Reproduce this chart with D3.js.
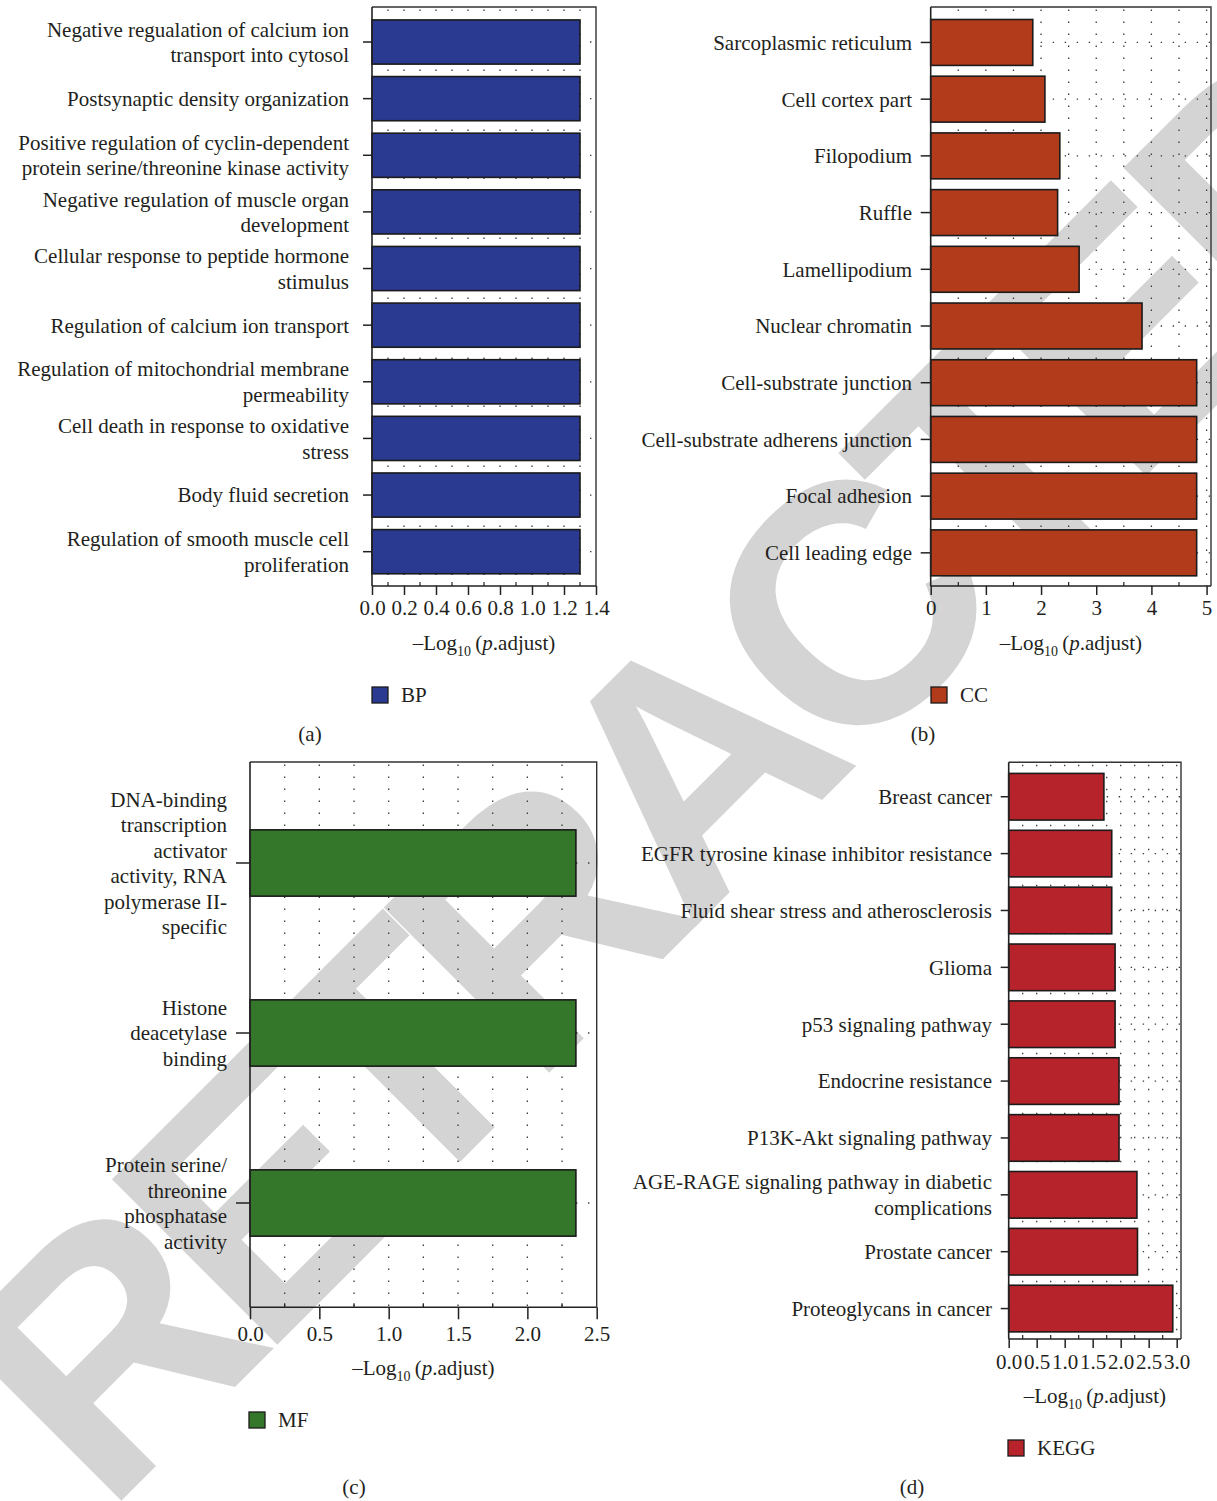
<!DOCTYPE html>
<html>
<head>
<meta charset="utf-8">
<script src="https://cdn.jsdelivr.net/npm/d3@7"></script>
<style>
  body { margin: 0; background: #fff; }
  svg { display: block; }
</style>
</head>
<body>
<svg id="fig" width="1217" height="1501"></svg>
<script>
// ---- Enrichment results: -log10(adjusted p) per term ----
const bpTerms = [
  "Negative regualation of calcium ion\ntransport into cytosol",
  "Postsynaptic density organization",
  "Positive regulation of cyclin-dependent\nprotein serine/threonine kinase activity",
  "Negative regulation of muscle organ\ndevelopment",
  "Cellular response to peptide hormone\nstimulus",
  "Regulation of calcium ion transport",
  "Regulation of mitochondrial membrane\npermeability",
  "Cell death in response to oxidative\nstress",
  "Body fluid secretion",
  "Regulation of smooth muscle cell\nproliferation"
];
const bpValues = [1.30, 1.30, 1.30, 1.30, 1.30, 1.30, 1.30, 1.30, 1.30, 1.30];

const ccTerms = [
  "Sarcoplasmic reticulum",
  "Cell cortex part",
  "Filopodium",
  "Ruffle",
  "Lamellipodium",
  "Nuclear chromatin",
  "Cell-substrate junction",
  "Cell-substrate adherens junction",
  "Focal adhesion",
  "Cell leading edge"
];
const ccValues = [1.85, 2.07, 2.34, 2.30, 2.69, 3.83, 4.82, 4.82, 4.82, 4.82];

const mfTerms = [
  "DNA-binding\ntranscription\nactivator\nactivity, RNA\npolymerase II-\nspecific",
  "Histone\ndeacetylase\nbinding",
  "Protein serine/\nthreonine\nphosphatase\nactivity"
];
const mfValues = [2.35, 2.35, 2.35];

const keggTerms = [
  "Breast cancer",
  "EGFR tyrosine kinase inhibitor resistance",
  "Fluid shear stress and atherosclerosis",
  "Glioma",
  "p53 signaling pathway",
  "Endocrine resistance",
  "P13K-Akt signaling pathway",
  "AGE-RAGE signaling pathway in diabetic\ncomplications",
  "Prostate cancer",
  "Proteoglycans in cancer"
];
const keggValues = [1.70, 1.84, 1.84, 1.90, 1.90, 1.97, 1.97, 2.29, 2.30, 2.93];

// ---- Axis ticks ----
const bpTicks = [0, 0.2, 0.4, 0.6, 0.8, 1.0, 1.2, 1.4];
const ccTicks = [0, 1, 2, 3, 4, 5];
const mfTicks = [0, 0.5, 1.0, 1.5, 2.0, 2.5];
const keggTicks = [0, 0.5, 1.0, 1.5, 2.0, 2.5, 3.0];

const legendNames = ["BP", "CC", "MF", "KEGG"];
const panelTags = ["(a)", "(b)", "(c)", "(d)"];

// ---- Layout and style of the four panels ----
const panels = [
  { terms: bpTerms, values: bpValues, ticks: bpTicks, fmt: ".1f", color: "#2a3a91",
    x0: 372, x1: 596, xMax: 1.4, y0: 7, y1: 586, band: [13.7, 580], pad: 0.22,
    yTick: 9, xTick: 9, labelX: 349, tickLabelY: 608, titleY: 643,
    legendX: 372, legendY: 695, tagX: 310, tagY: 734 },
  { terms: ccTerms, values: ccValues, ticks: ccTicks, fmt: "d", color: "#b23b1b",
    x0: 930.7, x1: 1211, xMax: 5.08, y0: 7, y1: 586, band: [14.1, 581.2], pad: 0.19,
    yTick: 10, xTick: 9, labelX: 912, tickLabelY: 608, titleY: 643,
    legendX: 931, legendY: 695, tagX: 923, tagY: 734 },
  { terms: mfTerms, values: mfValues, ticks: mfTicks, fmt: ".1f", color: "#34762a",
    x0: 250, x1: 596.7, xMax: 2.5, y0: 762, y1: 1307.3, band: [778, 1288], pad: 0.61,
    yTick: 14, xTick: 12, labelX: 227, tickLabelY: 1334, titleY: 1368,
    legendX: 249, legendY: 1420, tagX: 354, tagY: 1487 },
  { terms: keggTerms, values: keggValues, ticks: keggTicks, fmt: ".1f", color: "#b7232b",
    x0: 1008.7, x1: 1181, xMax: 3.077, y0: 762.3, y1: 1339, band: [768.3, 1337], pad: 0.18,
    yTick: 8, xTick: 9, labelX: 992, tickLabelY: 1362, titleY: 1396,
    legendX: 1008, legendY: 1448, tagX: 912, tagY: 1487 }
];

const serif = "'Liberation Serif', 'Times New Roman', serif";
const ink = "#231f20";
const svg = d3.select("#fig");

// ---- Diagonal stamp behind the figure ----
svg.append("text")
  .attr("transform", "translate(767,855) rotate(-45)")
  .attr("text-anchor", "middle")
  .attr("font-family", "'Liberation Sans', Arial, sans-serif")
  .attr("font-weight", "bold")
  .attr("font-size", 340)
  .attr("letter-spacing", -25)
  .attr("fill", "#d4d4d4")
  .text("RETRACTED");

panels.forEach((p, i) => {
  const g = svg.append("g").attr("font-family", serif).attr("fill", ink);

  const x = d3.scaleLinear().domain([0, p.xMax]).range([p.x0, p.x1]);
  const y = d3.scaleBand().domain(p.terms)
    .range(p.band).paddingInner(p.pad).paddingOuter(p.pad / 2);

  const major = p.ticks[1] - p.ticks[0];
  const minor = major / 2;
  const gridVals = d3.range(1, Math.round(p.ticks[p.ticks.length - 1] / minor) + 1)
    .map(k => k * minor).filter(v => x(v) < p.x1 - 2);
  const minorVals = gridVals.filter(v => Math.abs(v / major - Math.round(v / major)) > 1e-6);

  // dotted grid
  g.append("g").selectAll("line").data(gridVals).join("line")
    .attr("x1", d => x(d)).attr("x2", d => x(d))
    .attr("y1", p.y0 + 2.5).attr("y2", p.y1)
    .attr("stroke", "#3a3a3a").attr("stroke-width", 1.3)
    .attr("stroke-dasharray", "1.4 10.6");
  g.append("g").selectAll("line").data(p.terms).join("line")
    .attr("x1", p.x0 + 2).attr("x2", p.x1)
    .attr("y1", d => y(d) + y.bandwidth() / 2).attr("y2", d => y(d) + y.bandwidth() / 2)
    .attr("stroke", "#3a3a3a").attr("stroke-width", 1.3)
    .attr("stroke-dasharray", "1.4 10.6");

  // bars
  g.append("g").selectAll("rect").data(p.terms).join("rect")
    .attr("x", x(0))
    .attr("y", d => y(d))
    .attr("width", (d, j) => x(p.values[j]) - x(0))
    .attr("height", y.bandwidth())
    .attr("fill", p.color)
    .attr("stroke", "#1b1b1b")
    .attr("stroke-width", 1.6);

  // frame: top and right edges
  g.append("path")
    .attr("d", `M${p.x0},${p.y0}H${p.x1}V${p.y1}`)
    .attr("fill", "none").attr("stroke", "#333").attr("stroke-width", 1.4);

  // y axis with category labels
  const yAxis = d3.axisLeft(y).tickSize(p.yTick).tickSizeOuter(0).tickFormat("");
  const ya = g.append("g").attr("transform", `translate(${p.x0},0)`).call(yAxis);
  ya.select(".domain").attr("d", `M0,${p.y0}V${p.y1}`).attr("stroke", "#222").attr("stroke-width", 1.6);
  ya.selectAll(".tick line").attr("stroke", "#222").attr("stroke-width", 1.5);

  const lab = g.append("g").attr("font-size", 21).attr("text-anchor", "end");
  p.terms.forEach(t => {
    const lines = t.split("\n");
    const c = y(t) + y.bandwidth() / 2;
    const txt = lab.append("text").attr("x", p.labelX);
    lines.forEach((ln, k) => {
      txt.append("tspan")
        .attr("x", p.labelX)
        .attr("y", c + (k - (lines.length - 1) / 2) * 25.5)
        .attr("dy", "0.35em")
        .text(ln);
    });
  });

  // x axis
  const xAxis = d3.axisBottom(x).tickValues(p.ticks).tickSize(p.xTick)
    .tickSizeOuter(0).tickFormat(d3.format(p.fmt)).tickPadding(0);
  const xa = g.append("g").attr("transform", `translate(0,${p.y1})`).call(xAxis);
  xa.select(".domain").attr("d", `M${p.x0},0H${p.x1}`).attr("stroke", "#222").attr("stroke-width", 1.6);
  xa.selectAll(".tick line").attr("stroke", "#222").attr("stroke-width", 1.5);
  xa.selectAll(".tick text")
    .attr("y", p.tickLabelY - p.y1).attr("dy", "0.35em")
    .attr("font-family", serif).attr("font-size", 21).attr("fill", ink);
  xa.append("g").selectAll("line").data(minorVals).join("line")
    .attr("x1", d => x(d)).attr("x2", d => x(d))
    .attr("y1", 0).attr("y2", -4)
    .attr("stroke", "#222").attr("stroke-width", 1.2);

  // axis title: –Log10 (p.adjust)
  const title = g.append("text")
    .attr("x", (p.x0 + p.x1) / 2).attr("y", p.titleY).attr("dy", "0.35em")
    .attr("text-anchor", "middle").attr("font-size", 21);
  title.append("tspan").text("\u2013Log");
  title.append("tspan").attr("font-size", 14).attr("dy", 6).text("10");
  title.append("tspan").attr("dy", -6).text("\u2009(");
  title.append("tspan").attr("font-style", "italic").text("p");
  title.append("tspan").text(".adjust)");

  // legend
  g.append("rect")
    .attr("x", p.legendX).attr("y", p.legendY - 8)
    .attr("width", 16).attr("height", 16)
    .attr("fill", p.color).attr("stroke", "#1b1b1b").attr("stroke-width", 1.3);
  g.append("text")
    .attr("x", p.legendX + 29).attr("y", p.legendY).attr("dy", "0.35em")
    .attr("font-size", 21).text(legendNames[i]);

  // panel tag
  g.append("text")
    .attr("x", p.tagX).attr("y", p.tagY).attr("dy", "0.35em")
    .attr("text-anchor", "middle").attr("font-size", 21).text(panelTags[i]);
});
</script>
</body>
</html>
